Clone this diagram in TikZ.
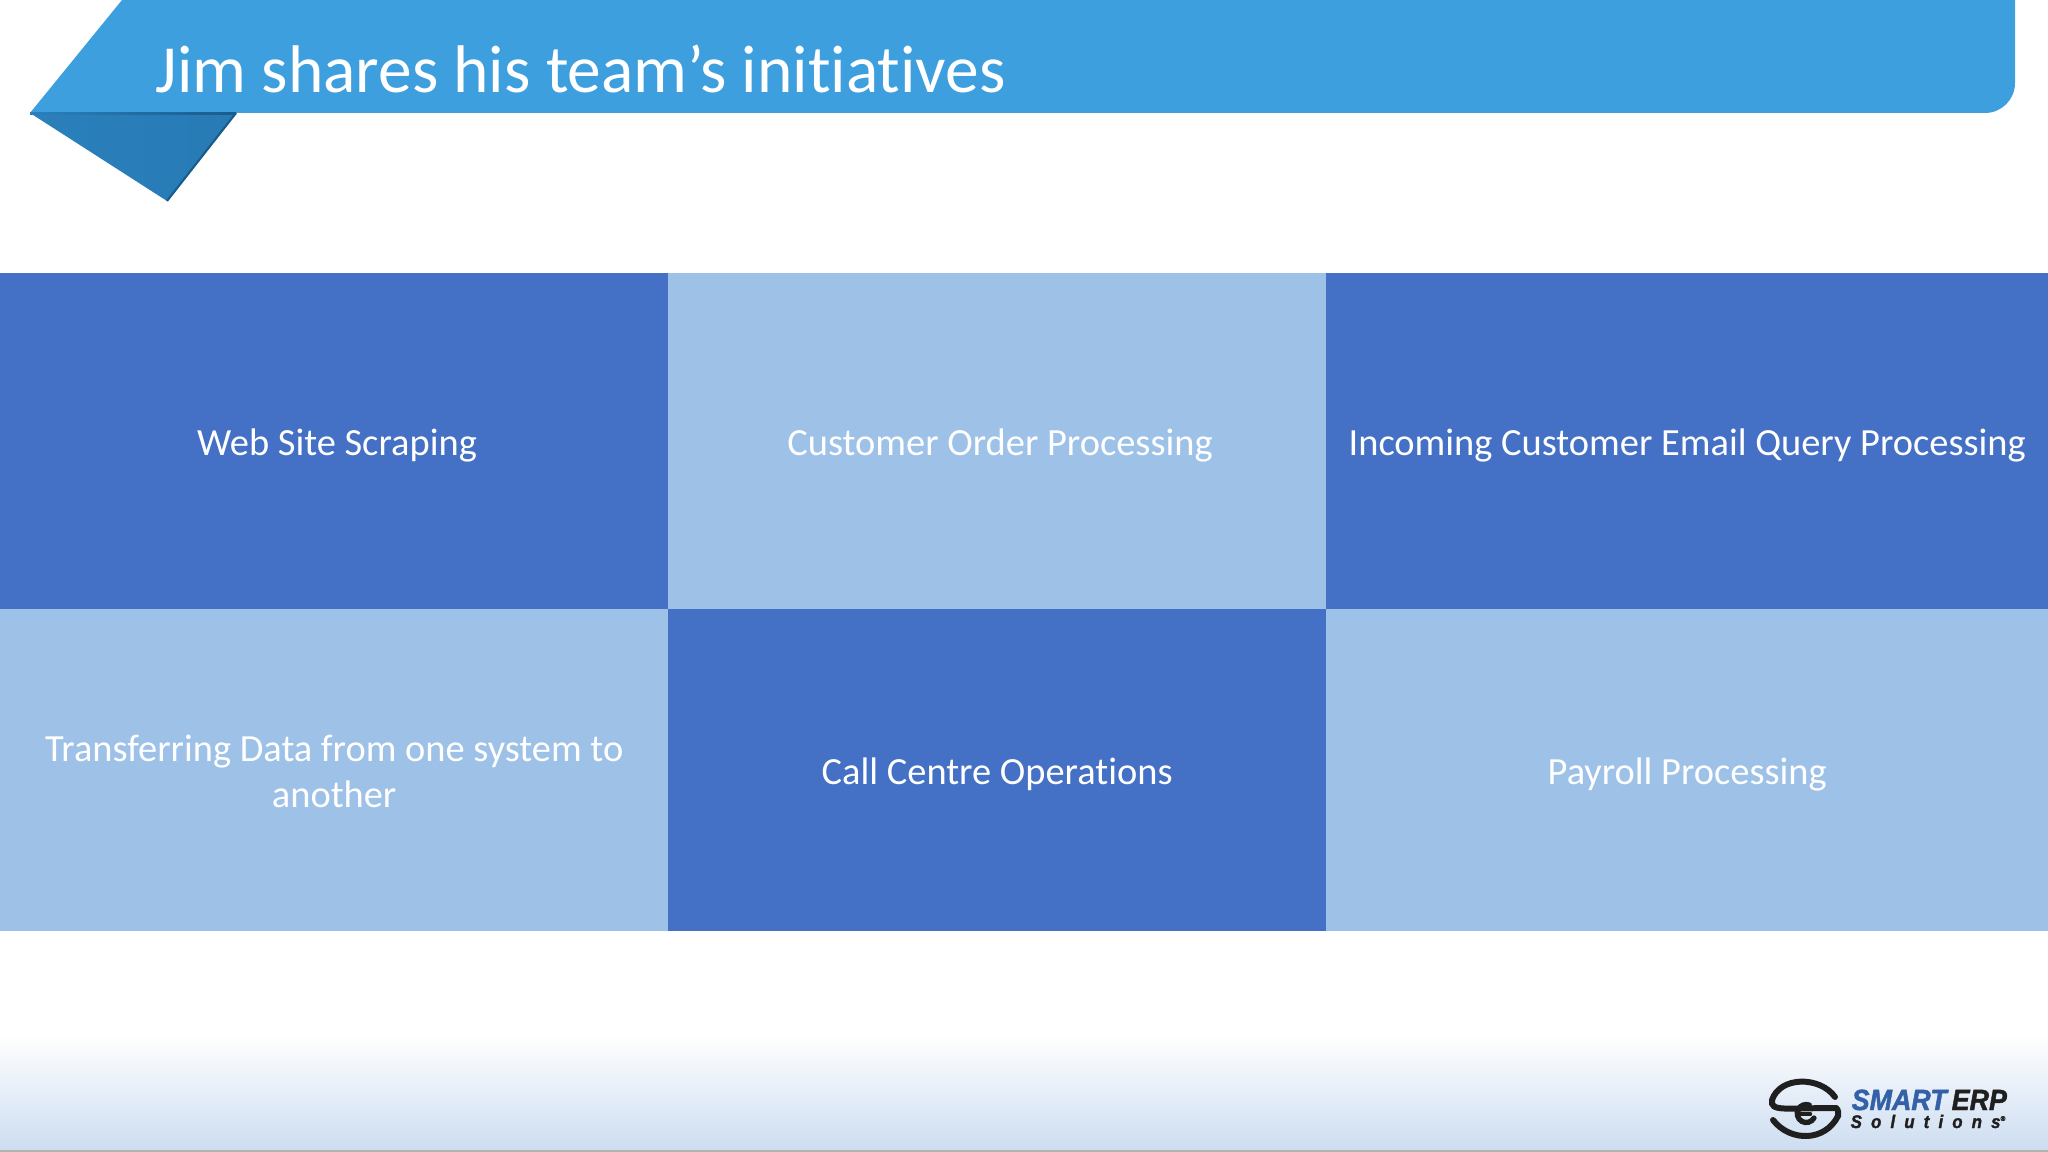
\documentclass[tikz,border=0pt]{standalone}
\usepackage{fontspec}
\setmainfont{Carlito}[Ligatures=NoCommon]
\newfontfamily\logofont{Liberation Sans}[BoldItalicFeatures={FakeBold=1.6,FakeStretch=0.92}]
\definecolor{bannerblue}{RGB}{62,159,222}
\definecolor{folddark}{RGB}{42,128,188}
\definecolor{folddeep}{RGB}{24,92,140}
\definecolor{celldark}{RGB}{68,112,198}
\definecolor{celllight}{RGB}{158,193,232}
\definecolor{footblue}{RGB}{205,221,241}
\definecolor{smartblue}{RGB}{52,96,168}
\tikzset{
	cell/.style 2 args = {minimum width = #1*0.2845pt, minimum height = #2*0.2845pt, inner sep = 0pt, outer sep = 0pt, anchor = north west, align = center, text = white, text height = 11.5pt, text depth = 3.2pt, font = \fontsize{10.93pt}{13.1pt}\selectfont},
	logotext/.style = {anchor = base west, inner sep = 0pt, font = \logofont\bfseries\itshape\fontsize{8.3pt}{9pt}\selectfont},
	logoline/.style = {draw = black!88, line width = 1.7pt, line cap = round}
}
\begin{document}
\begin{tikzpicture}[x = 0.01cm, y = -0.01cm]
	\useasboundingbox (0,0) rectangle (2048,1152);
	% footer shading
	\shade[top color = white, middle color = footblue!36!white, bottom color = footblue] (0,1035) rectangle (2048,1150);
	\draw[gray!60, thin] (0,1151) -- (2048,1151);
	% ribbon
	\fill[bannerblue] (122,0) -- (30,113) -- (1985,113) arc [start angle = 90, end angle = 0, radius = 30] -- (2015,0) -- cycle;
	\shade[left color = folddark, right color = folddark!85!folddeep] (30,113) -- (236,113) -- (167,201) -- cycle;
	\shade[left color = folddark, right color = folddeep] (30,113) rectangle (236,115);
	\draw[folddeep, line width = 0.6pt] (236,113) -- (167,201);
	\node[anchor = base west, inner sep = 0pt, text = white, font = \fontsize{19.17pt}{20pt}\selectfont] (title) at (155,93) {Jim shares his team’s initiatives};
	% cells
	\node[cell = {668}{336}, fill = celldark] (scrape) at (0,273) {\hspace*{1.6pt}Web Site Scraping};
	\node[cell = {658}{336}, fill = celllight] (order) at (668,273) {\hspace*{1.6pt}Customer Order Processing};
	\node[cell = {722}{336}, fill = celldark] (email) at (1326,273) {Incoming Customer Email Query Processing};
	\node[cell = {668}{322}, fill = celllight, text height = 24.6pt] (transfer) at (0,609) {Transferring Data from one system to\\another};
	\node[cell = {658}{322}, fill = celldark] (call) at (668,609) {Call Centre Operations};
	\node[cell = {722}{322}, fill = celllight] (payroll) at (1326,609) {Payroll Processing};
	% logo
	\draw[logoline] (1835,1097) .. controls (1820,1076) and (1780,1076) .. (1772,1100) .. controls (1770,1112) and (1785,1108) .. (1836,1108);
	\draw[logoline] (1773,1120) .. controls (1790,1142) and (1825,1142) .. (1838,1116) .. controls (1839,1109) and (1836,1108) .. (1836,1108);
	\draw[logoline, line width = 1.5pt] (1814,1118) arc [start angle = 30, end angle = 290, radius = 9];
	\draw[logoline, line width = 1.3pt] (1800,1114) -- (1810,1114);
	\node[logotext, text = smartblue] (smart) at (1851,1110) {SMART};
	\node[logotext, text = black!88] (erp) at (1951,1110) {ERP};
	\node[logotext, text = black!88, font = \logofont\bfseries\itshape\fontsize{5.2pt}{6pt}\selectfont] (solutions) at (1850,1128) {S\hspace{2.6pt}o\hspace{2.6pt}l\hspace{2.6pt}u\hspace{2.6pt}t\hspace{2.6pt}i\hspace{2.6pt}o\hspace{2.6pt}n\hspace{2.6pt}s\raisebox{2pt}{\fontsize{2pt}{2pt}\selectfont ®}};
\end{tikzpicture}
\end{document}
